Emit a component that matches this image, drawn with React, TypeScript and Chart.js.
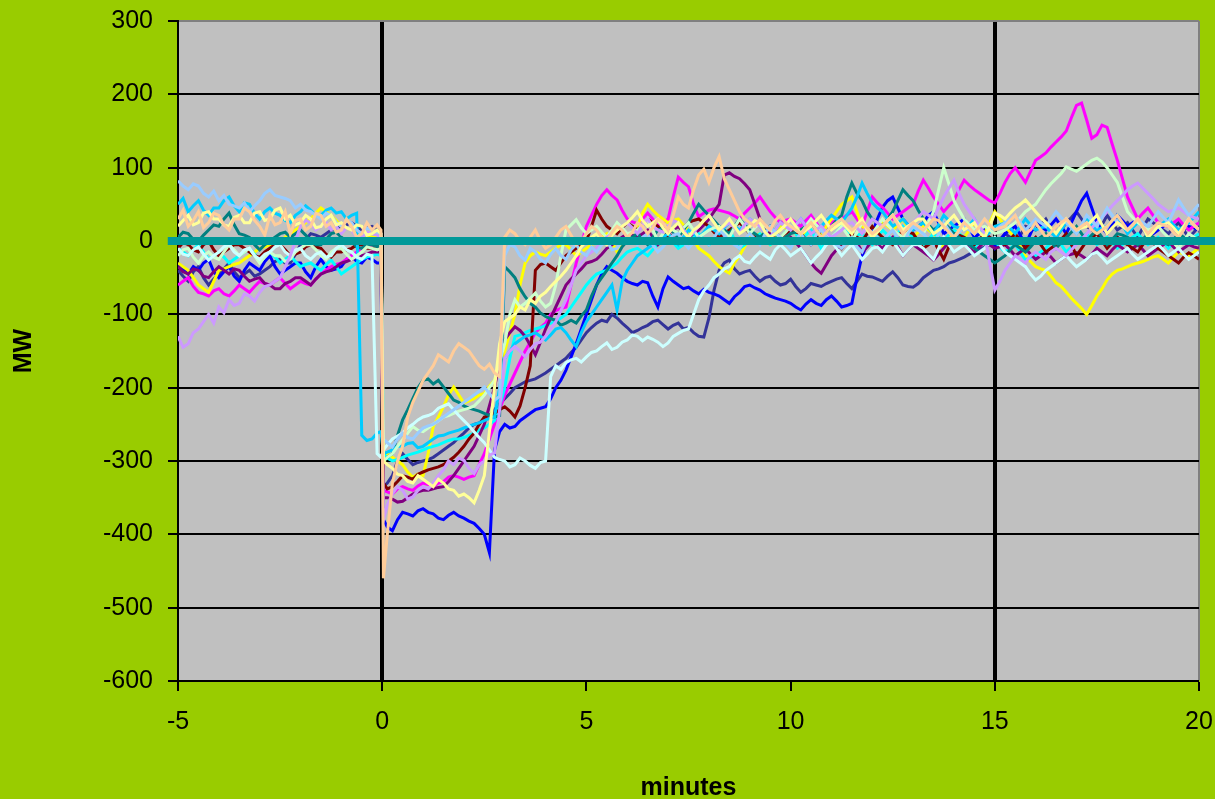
import React, { useEffect, useRef } from "react";
import { Chart, registerables } from "chart.js";

Chart.register(...registerables);

// Sample times in minutes relative to the event (t = 0), eight samples per minute.
const minutes = [
  -5, -4.875, -4.75, -4.625, -4.5, -4.375, -4.25, -4.125,
  -4, -3.875, -3.75, -3.625, -3.5, -3.375, -3.25, -3.125,
  -3, -2.875, -2.75, -2.625, -2.5, -2.375, -2.25, -2.125,
  -2, -1.875, -1.75, -1.625, -1.5, -1.375, -1.25, -1.125,
  -1, -0.875, -0.75, -0.625, -0.5, -0.375, -0.25, -0.125,
  -0.03, 0.03,
  0.125, 0.25, 0.375, 0.5, 0.625, 0.75, 0.875, 1,
  1.125, 1.25, 1.375, 1.5, 1.625, 1.75, 1.875, 2,
  2.125, 2.25, 2.375, 2.5, 2.625, 2.75, 2.875, 3,
  3.125, 3.25, 3.375, 3.5, 3.625, 3.75, 3.875, 4,
  4.125, 4.25, 4.375, 4.5, 4.625, 4.75, 4.875, 5,
  5.125, 5.25, 5.375, 5.5, 5.625, 5.75, 5.875, 6,
  6.125, 6.25, 6.375, 6.5, 6.625, 6.75, 6.875, 7,
  7.125, 7.25, 7.375, 7.5, 7.625, 7.75, 7.875, 8,
  8.125, 8.25, 8.375, 8.5, 8.625, 8.75, 8.875, 9,
  9.125, 9.25, 9.375, 9.5, 9.625, 9.75, 9.875, 10,
  10.125, 10.25, 10.375, 10.5, 10.625, 10.75, 10.875, 11,
  11.125, 11.25, 11.375, 11.5, 11.625, 11.75, 11.875, 12,
  12.125, 12.25, 12.375, 12.5, 12.625, 12.75, 12.875, 13,
  13.125, 13.25, 13.375, 13.5, 13.625, 13.75, 13.875, 14,
  14.125, 14.25, 14.375, 14.5, 14.625, 14.75, 14.875, 15,
  15.125, 15.25, 15.375, 15.5, 15.625, 15.75, 15.875, 16,
  16.125, 16.25, 16.375, 16.5, 16.625, 16.75, 16.875, 17,
  17.125, 17.25, 17.375, 17.5, 17.625, 17.75, 17.875, 18,
  18.125, 18.25, 18.375, 18.5, 18.625, 18.75, 18.875, 19,
  19.125, 19.25, 19.375, 19.5, 19.625, 19.75, 19.875, 20,
];

// Reference line at 0 MW, running slightly past both ends of the axis.
const zeroLineMinutes = [-5.25, 20.4];
const zeroLineMW = [0, 0];

const xMin = -5;
const xMax = 20;
const xStep = 5;
const yMin = -600;
const yMax = 300;
const yStep = 100;

// Per-event MW deviation traces (one row per minute).
const mwTan = [
  30, 42, 20, 28, 40, 18, 25, 38,
  35, 22, 15, 30, 30, 45, 40, 28,
  20, 8, 35, 22, 25, 40, 10, 28,
  30, 15, 20, 38, 35, 20, 25, 12,
  15, 30, 20, 5, 10, 25, 15, 22,
  15, -460,
  -400, -330, -300, -280, -240, -220, -205, -190,
  -180, -170, -155, -160, -165, -150, -140, -145,
  -150, -160, -170, -175, -168, -180, -185, 5,
  15, 10, 0, -5, 5, 15, 0, -10,
  -5, 5, 15, 20, 8, -5, 0, 10,
  20, 15, 5, 0, 12, 20, 15, 5,
  12, 25, 20, 10, 18, 30, 25, 15,
  35, 60, 50, 45, 70, 90, 98, 80,
  100, 115, 85, 70, 55, 40, 30, 25,
  20, 30, 22, 15, 28, 35, 25, 20,
  15, 10, 18, 25, 15, 5, 12, 20,
  25, 30, 22, 15, 20, 25, 18, 10,
  15, 20, 28, 35, 22, 10, 18, 25,
  20, 15, 22, 30, 28, 20, 12, 5,
  15, 25, 18, 10, 20, 30, 22, 15,
  18, 20, 28, 35, 20, 10, 15, 25,
  15, 5, 12, 20, 25, 30, 22, 15,
  20, 25, 15, 10, 15, 20, 28, 35,
  25, 15, 22, 30, 20, 10, 18, 25,
  22, 20, 12, 5, 15, 30, 22, 15,
];
const mwLightYellow = [
  20, 28, 35, 22, 25, 38, 40, 30,
  30, 22, 20, 32, 35, 25, 25, 38,
  40, 28, 30, 42, 45, 30, 35, 22,
  25, 35, 30, 18, 20, 30, 35, 22,
  25, 18, 15, 22, 20, 8, 10, 15,
  10, -300,
  -305, -310, -318, -320, -328, -330, -320, -325,
  -330, -335, -325, -330, -338, -340, -348, -345,
  -350, -357, -340, -320, -260, -200, -140, -110,
  -105, -100, -90, -94, -80, -85, -75, -70,
  -62, -55, -48, -40, -30, -20, -8, 0,
  5, 10, 2, -5, 8, 15, 20, 25,
  32, 40, 28, 20, 25, 30, 18, 10,
  18, 25, 12, 5, 15, 20, 28, 35,
  25, 15, 22, 30, 20, 10, 15, 20,
  28, 25, 12, 5, 10, 15, 22, 30,
  20, 10, 15, 20, 28, 35, 25, 15,
  20, 25, 18, 10, 22, 30, 15, 5,
  12, 20, 28, 35, 25, 15, 20, 25,
  30, 30, 20, 10, 15, 20, 28, 35,
  25, 15, 20, 25, 12, 5, 20, 38,
  35, 30, 38, 45, 50, 56, 48, 40,
  32, 25, 18, 10, 20, 30, 22, 15,
  18, 20, 28, 35, 22, 10, 18, 25,
  20, 15, 22, 30, 18, 5, 12, 20,
  22, 25, 18, 10, 20, 30, 22, 15,
];
const mwPaleBlue = [
  82, 75, 70, 78, 75, 65, 60, 68,
  55, 62, 50, 48, 45, 52, 40, 48,
  55, 65, 70, 62, 60, 58, 55, 45,
  50, 42, 40, 35, 30, 38, 35, 25,
  20, 28, 25, 15, 10, 18, 15, 12,
  10, -270,
  -275, -281, -270, -262, -268, -270, -262, -255,
  -252, -250, -245, -240, -235, -230, -225, -220,
  -215, -210, -205, -199, -208, -217, -212, -20,
  -5, -8, -20, -26, -10, -15, -25, -30,
  -18, -10, -20, -25, -12, -5, -15, -20,
  -8, -15, -5, 0, -12, -10, 0, 5,
  2, -5, 5, 10, -5, -15, -8, 0,
  8, 10, -2, -10, -2, 5, 0, -5,
  5, 15, 8, 0, -5, -10, 2, 10,
  3, -5, 10, 20, 12, 5, -3, -10,
  2, 10, 0, -5, 8, 15, 5, 0,
  -5, -10, -2, 5, -8, -15, 0, 10,
  5, 0, 8, 15, 5, -5, 10, 20,
  15, 10, 2, -5, 10, 25, 15, 5,
  12, 20, 15, 10, 22, 30, 20, 15,
  20, 25, 30, 35, 25, 15, 22, 30,
  25, 20, 30, 40, 32, 25, 18, 10,
  22, 35, 28, 20, 32, 45, 35, 25,
  20, 15, 22, 30, 25, 20, 30, 40,
  32, 25, 40, 56, 45, 35, 42, 50,
];
const mwLavender = [
  -130, -145, -140, -125, -120, -110, -100, -112,
  -90, -98, -80, -88, -85, -72, -75, -82,
  -70, -62, -60, -55, -50, -35, -20, 0,
  20, 28, 25, 15, 20, 25, 15, 20,
  10, 18, 15, 5, 5, 12, 10, 8,
  5, -380,
  -360, -345, -335, -340, -352, -349, -340, -335,
  -338, -330, -320, -312, -300, -305, -296, -299,
  -310, -317, -305, -300, -292, -289, -230, -160,
  -150, -144, -150, -158, -148, -140, -138, -130,
  -120, -110, -95, -80, -60, -40, -30, -20,
  -15, -10, 0, 5, 10, 15, 20, 25,
  18, 10, 22, 30, 20, 15, 12, 20,
  28, 25, 15, 5, 12, 20, 28, 35,
  25, 15, 20, 25, 18, 10, 22, 30,
  25, 20, 12, 5, 15, 25, 20, 15,
  22, 30, 20, 10, 15, 20, 12, 5,
  10, 15, 22, 25, 18, 10, 20, 30,
  25, 20, 28, 35, 25, 15, 20, 25,
  32, 40, 35, 30, 45, 60, 72, 83,
  65, 50, 40, 30, 20, 10, -30, -67,
  -55, -40, -30, -20, -25, -30, -20, -15,
  -20, -25, -15, -10, -15, -20, -12, -5,
  2, 10, 18, 25, 32, 40, 48, 55,
  62, 70, 75, 79, 72, 65, 58, 50,
  45, 40, 42, 45, 40, 35, 32, 30,
];
const mwLightCyan = [
  -10, -18, -20, -12, -8, -18, -26, -20,
  -15, -8, -5, -15, -20, -12, -10, -20,
  -25, -18, -15, -8, -5, -15, -20, -12,
  -10, -20, -25, -18, -15, -22, -20, -10,
  -5, -12, -15, -22, -25, -18, -20, -290,
  -295, -285,
  -278, -270, -266, -262, -255, -250, -244, -240,
  -238, -235, -228, -225, -222, -230, -238, -245,
  -252, -260, -268, -275, -285, -295, -298, -300,
  -308, -305, -296, -300, -306, -310, -302, -300,
  -185, -170, -175, -166, -162, -160, -165, -158,
  -152, -150, -144, -139, -148, -145, -138, -135,
  -128, -130, -136, -131, -134, -138, -144, -139,
  -130, -126, -122, -120, -100, -80, -68, -60,
  -50, -45, -38, -35, -25, -20, -28, -30,
  -22, -15, -20, -25, -12, -5, -12, -20,
  -15, -10, -20, -30, -22, -15, -5, 0,
  -10, -20, -12, -5, -15, -25, -18, -10,
  -8, -15, -5, 0, -10, -20, -12, -5,
  -5, -10, -18, -25, -10, 5, -5, -15,
  -10, -5, -12, -20, -15, -10, -2, 5,
  -5, -15, -20, -25, -30, -35, -45, -53,
  -48, -40, -35, -30, -25, -20, -28, -35,
  -30, -25, -18, -15, -22, -30, -25, -20,
  -15, -10, -18, -25, -20, -15, -10, -5,
  -12, -20, -15, -10, -18, -25, -20, -15,
];
const mwLightGreen = [
  -20, -12, -10, -22, -30, -20, -15, -22,
  -25, -15, -5, -12, -20, -15, -10, -20,
  -30, -22, -15, -20, -20, -28, -25, -15,
  -10, -5, -5, -12, -20, -25, -15, -10,
  -10, -18, -25, -20, -15, -8, -10, -12,
  -10, -300,
  -295, -290, -280, -271, -262, -253, -258, -260,
  -255, -250, -245, -240, -238, -235, -232, -230,
  -228, -225, -218, -210, -200, -190, -165, -140,
  -100, -80, -90, -85, -78, -71, -82, -90,
  -85, -60, -20, 15, 22, 29, 18, 10,
  15, 20, 12, 5, 15, 25, 18, 10,
  12, 15, 22, 30, 15, 0, 10, 20,
  15, 10, 18, 25, 15, 5, 10, 15,
  18, 20, 12, 5, 18, 30, 20, 10,
  18, 25, 20, 15, 10, 5, 12, 20,
  15, 10, 20, 30, 22, 15, 10, 5,
  12, 20, 10, 0, 12, 25, 18, 10,
  20, 30, 22, 15, 10, 5, 12, 20,
  15, 10, 25, 40, 70, 100, 78, 55,
  42, 30, 22, 15, 18, 20, 15, 10,
  12, 15, 20, 25, 32, 40, 45, 50,
  60, 70, 78, 85, 92, 101, 98, 95,
  100, 105, 110, 113, 108, 100, 90, 80,
  60, 40, 32, 25, 20, 15, 18, 20,
  12, 5, -2, -10, 0, 10, 5, 0,
];
const mwSkyBlue = [
  50, 58, 40, 48, 55, 42, 35, 45,
  45, 55, 60, 48, 40, 52, 50, 38,
  30, 40, 45, 38, 35, 28, 25, 35,
  40, 48, 42, 35, 35, 42, 45, 38,
  40, 30, 35, 38, -265, -272, -270, -262,
  -260, -290,
  -288, -285, -280, -280, -276, -275, -282, -280,
  -275, -270, -266, -265, -262, -260, -258, -255,
  -252, -250, -248, -245, -242, -240, -200, -160,
  -150, -140, -135, -130, -128, -125, -130, -135,
  -128, -120, -118, -125, -135, -144, -125, -110,
  -100, -90, -80, -70, -60, -94, -55, -40,
  -30, -20, -15, -10, -5, 0, 5, 10,
  2, -5, 5, 15, 10, 5, 12, 20,
  15, 10, 18, 25, 20, 15, 22, 30,
  25, 20, 12, 5, 15, 25, 20, 15,
  22, 30, 20, 10, 15, 20, 28, 35,
  30, 25, 35, 45, 60, 79, 65, 52,
  45, 40, 30, 20, 25, 30, 22, 15,
  20, 25, 18, 10, 22, 35, 28, 20,
  18, 15, 22, 30, 18, 5, 12, 20,
  22, 25, 18, 10, 20, 30, 22, 15,
  18, 20, 12, 5, 15, 25, 18, 10,
  20, 30, 22, 15, 18, 20, 28, 35,
  22, 10, 18, 25, 20, 15, 18, 20,
  25, 30, 22, 15, 20, 25, 32, 40,
];
const mwTeal = [
  5, 12, 10, 2, 0, 8, 15, 22,
  20, 30, 38, 22, 10, 8, 5, -5,
  -12, -5, 0, 5, 10, 12, 5, 10,
  15, 8, 0, -5, -5, 2, 10, 12,
  5, 0, 0, -8, -10, -5, -5, -8,
  -5, -300,
  -295, -290, -265, -244, -230, -215, -200, -190,
  -188, -195, -190, -199, -208, -217, -220, -225,
  -228, -230, -232, -235, -238, -240, -238, -35,
  -42, -50, -65, -76, -85, -90, -98, -103,
  -106, -108, -115, -112, -108, -112, -102, -94,
  -75, -60, -50, -40, -30, -20, -8, 0,
  5, 10, 2, -5, 5, 15, 18, 20,
  12, 5, 15, 25, 38, 50, 42, 35,
  28, 20, 15, 10, 20, 30, 22, 15,
  10, 5, 12, 20, 10, 0, 5, 10,
  12, 15, 20, 25, 15, 5, 12, 20,
  28, 35, 60, 79, 65, 55, 40, 30,
  25, 20, 30, 40, 55, 70, 62, 55,
  42, 30, 22, 15, 20, 25, 18, 10,
  5, 0, -5, -10, -15, -20, -25, -30,
  -25, -20, -12, -5, -10, -15, -8, 0,
  5, 10, 0, -10, -2, 5, 12, 20,
  10, 0, 8, 15, 5, -5, 2, 10,
  8, 5, 0, -5, 2, 10, 5, 0,
  -2, -5, 2, 10, 5, 0, 2, 5,
];
const mwMaroon = [
  -10, -2, -5, -12, -15, -5, 0, -12,
  -20, -15, -10, -5, -5, -10, -15, -20,
  -22, -15, -10, -5, -5, -12, -20, -18,
  -15, -8, -5, -8, -10, -18, -22, -15,
  -15, -12, -10, -5, -5, -10, -10, -8,
  -10, -330,
  -338, -335, -328, -320, -322, -325, -318, -315,
  -312, -310, -308, -305, -300, -295, -288, -280,
  -270, -262, -250, -240, -238, -235, -230, -226,
  -232, -240, -225, -200, -170, -40, -32, -30,
  -35, -40, -30, -20, -15, -10, -5, 0,
  20, 42, 30, 20, 15, 10, 18, 25,
  20, 15, 22, 30, 25, 20, 12, 5,
  8, 10, 18, 25, 28, 30, 25, 20,
  12, 5, 10, 15, 20, 25, 18, 10,
  5, 0, 10, 20, 12, 5, 10, 15,
  12, 10, 2, -5, 5, 15, 10, 5,
  -2, -10, 0, 10, 5, 0, 10, 20,
  12, 5, 0, -5, 5, 15, 12, 10,
  0, -10, -5, 0, -12, -25, -8, 10,
  8, 5, 0, -5, 2, 10, 5, 0,
  -2, -5, 2, 10, 0, -10, -2, 5,
  -5, -15, -10, -5, 2, 10, -5, -20,
  -10, 0, 5, 10, 0, -10, -2, 5,
  0, -5, -10, -15, -5, 5, -2, -10,
  -15, -20, -25, -30, -22, -16, -20, -25,
];
const mwPurple = [
  -35, -42, -45, -38, -40, -48, -50, -42,
  -35, -40, -45, -38, -40, -48, -55, -52,
  -50, -58, -60, -65, -65, -58, -55, -50,
  -50, -55, -60, -52, -45, -42, -40, -35,
  -30, -28, -25, -22, -20, -18, -15, -15,
  -15, -350,
  -350, -352, -356, -355, -350, -345, -342, -340,
  -340, -338, -336, -335, -328, -320, -310, -300,
  -290, -280, -265, -250, -225, -200, -165, -135,
  -125, -117, -122, -130, -142, -155, -138, -120,
  -105, -90, -75, -60, -52, -45, -38, -30,
  -28, -25, -18, -10, -5, 0, 5, 10,
  8, 5, 10, 15, 5, -5, 2, 10,
  15, 20, 12, 5, 10, 15, 22, 30,
  40, 50, 90, 93, 88, 85, 78, 70,
  50, 30, 20, 10, 2, -5, 0, 5,
  -2, -10, -20, -30, -38, -44, -32, -20,
  -12, -5, 2, 10, -2, -15, -8, 0,
  -5, -10, -2, 5, -8, -20, -12, -5,
  -10, -15, -20, -26, -18, -10, -2, 5,
  0, -5, -10, -15, -8, 0, -5, -10,
  -8, -5, -12, -20, -15, -10, -18, -25,
  -20, -15, -22, -30, -25, -20, -18, -16,
  -20, -25, -18, -10, -15, -20, -12, -5,
  -10, -15, -10, -5, -12, -20, -15, -10,
  -5, 0, -8, -15, -10, -5, -8, -10,
];
const mwCyan = [
  -10, -15, -20, -12, -5, -15, -25, -20,
  -15, -22, -30, -25, -20, -15, -10, -18,
  -25, -20, -15, -22, -30, -25, -20, -28,
  -35, -32, -30, -35, -40, -32, -26, -35,
  -45, -40, -35, -30, -25, -22, -20, -18,
  -20, -290,
  -296, -300, -298, -295, -292, -290, -288, -285,
  -282, -280, -278, -275, -272, -270, -270, -268,
  -265, -262, -258, -255, -250, -245, -225, -200,
  -160, -130, -128, -125, -122, -120, -118, -115,
  -112, -110, -105, -100, -90, -80, -70, -60,
  -52, -45, -42, -40, -35, -30, -22, -15,
  -12, -10, -15, -20, -12, -5, 0, 5,
  -2, -10, -5, 0, 5, 10, 2, -5,
  0, 5, 10, 15, 2, -10, -5, 0,
  5, 10, 2, -5, 0, 5, 12, 20,
  10, 0, 8, 15, 2, -10, -2, 5,
  12, 20, 12, 5, 8, 10, 2, -5,
  5, 15, 8, 0, 10, 20, 12, 5,
  0, -5, 2, 10, 5, 0, 8, 15,
  10, 5, -2, -10, 0, 10, 5, 0,
  -8, -15, -10, -5, -15, -26, -22, -20,
  -15, -10, -2, 5, -5, -15, -8, 0,
  5, 10, 2, -5, 0, 5, -2, -10,
  -5, 0, 5, 10, 2, -5, 0, 5,
  -2, -10, -2, 5, 2, 0, 5, 10,
];
const mwYellow = [
  -30, -35, -40, -50, -60, -65, -70, -55,
  -40, -38, -35, -32, -30, -25, -20, -15,
  -10, -8, -5, -2, 0, 5, 10, 15,
  20, 25, 30, 38, 45, 40, 35, 28,
  20, 18, 15, 12, 10, 8, 5, 5,
  5, -300,
  -290, -295, -300, -305, -315, -322, -318, -320,
  -290, -253, -240, -226, -210, -199, -210, -221,
  -218, -215, -210, -208, -198, -190, -170, -150,
  -125, -100, -60, -30, -20, -15, -18, -20,
  -15, -10, -5, -5, -12, -20, -15, -10,
  -5, 0, 5, 10, -2, -15, -5, 5,
  12, 20, 38, 50, 42, 35, 30, 25,
  28, 30, 22, 15, 2, -10, -15, -20,
  -28, -35, -40, -44, -30, -20, -8, 5,
  8, 10, 2, -5, 8, 20, 18, 15,
  10, 5, 15, 25, 18, 10, 20, 30,
  40, 50, 55, 60, 40, 20, 15, 10,
  18, 25, 20, 15, 22, 30, 18, 5,
  12, 20, 15, 10, 0, -10, 2, 15,
  10, 5, 15, 25, 18, 10, 25, 40,
  30, 20, 12, 5, -8, -20, -28, -35,
  -38, -40, -48, -57, -62, -70, -78, -85,
  -92, -100, -88, -75, -65, -53, -45, -40,
  -38, -35, -32, -30, -28, -25, -22, -20,
  -25, -30, -22, -15, -18, -20, -15, -10,
];
const mwMagenta = [
  -60, -55, -50, -62, -70, -72, -75, -68,
  -65, -72, -75, -68, -60, -65, -70, -62,
  -55, -58, -60, -55, -50, -58, -65, -60,
  -55, -58, -60, -52, -45, -40, -35, -32,
  -30, -25, -20, -15, -10, -8, -5, -5,
  -5, -340,
  -342, -345, -338, -335, -338, -340, -334, -330,
  -332, -335, -330, -328, -322, -320, -322, -325,
  -322, -320, -305, -290, -270, -250, -230, -210,
  -195, -180, -165, -150, -138, -125, -118, -112,
  -100, -95, -92, -90, -60, -30, -5, 20,
  35, 50, 62, 70, 62, 56, 42, 30,
  26, 24, 30, 38, 30, 20, 25, 30,
  60, 87, 80, 74, 50, 33, 38, 42,
  44, 42, 40, 38, 34, 30, 38, 45,
  52, 60, 50, 40, 32, 25, 28, 30,
  25, 20, 28, 35, 25, 15, 20, 25,
  28, 30, 35, 40, 30, 20, 40, 60,
  52, 46, 38, 30, 35, 40, 45, 50,
  68, 83, 72, 60, 50, 40, 48, 55,
  70, 83, 76, 70, 65, 60, 55, 52,
  65, 80, 92, 100, 90, 80, 95, 110,
  115, 120, 128, 135, 142, 150, 168, 185,
  188, 165, 140, 145, 158, 155, 132, 110,
  85, 60, 45, 30, 38, 45, 35, 25,
  22, 20, 25, 30, 22, 15, 20, 25,
];
const mwBlue = [
  -30, -38, -45, -35, -40, -30, -25, -42,
  -50, -42, -35, -48, -55, -40, -30, -35,
  -40, -28, -20, -35, -45, -40, -35, -30,
  -30, -42, -50, -35, -25, -35, -40, -38,
  -35, -25, -20, -28, -30, -22, -25, -30,
  -30, -380,
  -390, -395, -380, -370, -372, -375, -368, -365,
  -370, -372, -378, -380, -374, -370, -375, -378,
  -382, -385, -392, -400, -425, -285, -260, -250,
  -255, -253, -245, -240, -235, -230, -228, -226,
  -215, -200, -190, -176, -158, -140, -120, -100,
  -80, -60, -45, -35, -40, -44, -50, -55,
  -58, -60, -55, -57, -75, -90, -65, -49,
  -55, -60, -65, -63, -68, -72, -66, -70,
  -72, -75, -80, -85, -76, -70, -62, -60,
  -64, -67, -72, -75, -78, -80, -82, -85,
  -90, -94, -86, -80, -85, -88, -80, -75,
  -82, -90, -88, -85, -50, -20, -5, 10,
  30, 46, 55, 60, 45, 30, 22, 15,
  20, 25, 35, 40, 25, 10, 15, 20,
  25, 30, 18, 5, 10, 15, 2, -10,
  0, 10, 15, 20, 8, -5, 10, 25,
  20, 15, 22, 30, 20, 10, 25, 40,
  55, 65, 45, 25, 18, 10, 22, 35,
  28, 20, 25, 30, 18, 5, 10, 15,
  20, 25, 18, 10, 15, 20, 18, 15,
];
const mwNavy = [
  -40, -48, -55, -42, -35, -50, -60, -52,
  -45, -38, -30, -42, -50, -45, -40, -48,
  -45, -40, -35, -28, -25, -30, -30, -18,
  -5, 2, 10, 8, 5, 10, 15, 18,
  20, 22, 25, 20, 15, 18, 20, 15,
  10, -335,
  -330, -320, -300, -290, -298, -305, -302, -300,
  -298, -295, -290, -285, -280, -275, -268, -262,
  -255, -250, -248, -244, -238, -230, -222, -215,
  -208, -200, -196, -192, -190, -188, -184, -180,
  -175, -170, -165, -160, -152, -145, -135, -125,
  -118, -112, -108, -110, -100, -105, -112, -118,
  -125, -122, -118, -115, -110, -108, -114, -120,
  -115, -112, -120, -118, -125, -130, -131, -105,
  -67, -40, -30, -26, -38, -45, -42, -40,
  -48, -55, -50, -48, -55, -60, -58, -52,
  -62, -70, -65, -58, -60, -62, -58, -55,
  -52, -50, -58, -65, -55, -45, -48, -49,
  -52, -55, -48, -42, -50, -60, -62, -63,
  -58, -50, -45, -40, -38, -35, -30, -28,
  -25, -22, -18, -15, -12, -8, -5, -3,
  2, 10, 5, -5, 8, 20, 18, 15,
  22, 30, 18, 5, 15, 25, 32, 40,
  30, 20, 15, 10, 22, 35, 25, 15,
  20, 25, 15, 5, 18, 30, 25, 20,
  15, 10, 18, 25, 15, 5, 12, 20,
];

// Drawing order: the first trace listed ends up on top.
const traces = [
  { label: "Tan", color: "#FFCC99", values: mwTan },
  { label: "Light yellow", color: "#FFFF99", values: mwLightYellow },
  { label: "Pale blue", color: "#99CCFF", values: mwPaleBlue },
  { label: "Lavender", color: "#CC99FF", values: mwLavender },
  { label: "Light cyan", color: "#CCFFFF", values: mwLightCyan },
  { label: "Light green", color: "#CCFFCC", values: mwLightGreen },
  { label: "Sky blue", color: "#00CCFF", values: mwSkyBlue },
  { label: "Teal", color: "#008080", values: mwTeal },
  { label: "Maroon", color: "#800000", values: mwMaroon },
  { label: "Purple", color: "#800080", values: mwPurple },
  { label: "Cyan", color: "#00FFFF", values: mwCyan },
  { label: "Yellow", color: "#FFFF00", values: mwYellow },
  { label: "Magenta", color: "#FF00FF", values: mwMagenta },
  { label: "Blue", color: "#0000FF", values: mwBlue },
  { label: "Navy", color: "#333399", values: mwNavy },
];

const FONT = "'Liberation Sans', Arial, Helvetica, sans-serif";

// Green page background with a grey plot area.
const backdrop = {
  id: "backdrop",
  beforeDraw(chart: any) {
    const { ctx, chartArea: a, width, height } = chart;
    ctx.save();
    ctx.fillStyle = "#99CC00";
    ctx.fillRect(0, 0, width, height);
    ctx.fillStyle = "#C0C0C0";
    ctx.fillRect(a.left, a.top, a.right - a.left, a.bottom - a.top);
    ctx.restore();
  },
};

// Fixed axis box sizes; labels are allowed to overhang the plot edges.
const fixAxisBox = (size: "width" | "height", px: number) => (scale: any) => {
  scale[size] = px;
  scale.paddingLeft = 0;
  scale.paddingRight = 0;
  scale.paddingTop = 0;
  scale.paddingBottom = 0;
};

export default function App() {
  const canvasRef = useRef<HTMLCanvasElement | null>(null);

  useEffect(() => {
    if (!canvasRef.current) return;
    Chart.defaults.font.family = FONT;

    const datasets: any[] = [
      {
        label: "0 MW",
        data: zeroLineMinutes.map((x, i) => ({ x, y: zeroLineMW[i] })),
        borderColor: "#009999",
        borderWidth: 8,
        pointRadius: 0,
        clip: false,
        borderCapStyle: "butt",
      },
      ...traces.map((t) => ({
        label: t.label,
        data: minutes.map((x, i) => ({ x, y: t.values[i] })),
        borderColor: t.color,
        borderWidth: 3,
        pointRadius: 0,
        tension: 0,
        fill: false,
      })),
    ];

    const chart = new Chart(canvasRef.current, {
      type: "line",
      data: { datasets },
      plugins: [backdrop],
      options: {
        responsive: false,
        animation: false,
        events: [],
        layout: { padding: { left: 0, right: 16, top: 21, bottom: 0 } },
        plugins: { legend: { display: false }, tooltip: { enabled: false } },
        scales: {
          x: {
            type: "linear",
            min: xMin,
            max: xMax,
            afterFit: fixAxisBox("height", 118),
            ticks: {
              stepSize: xStep,
              color: "#000",
              font: { size: 25 },
              padding: 16,
              maxRotation: 0,
            },
            grid: {
              color: (c: any) => {
                const v = c.tick && c.tick.value;
                if (v === 0 || v === 15) return "#000";
                if (v === 20) return "#808080";
                return "rgba(0,0,0,0)";
              },
              lineWidth: (c: any) => {
                const v = c.tick && c.tick.value;
                if (v === 0 || v === 15) return 4;
                if (v === 20) return 2;
                return 0;
              },
              tickColor: "#000",
              tickWidth: 2,
              tickLength: 10,
            },
            border: { color: "#000", width: 2 },
            title: {
              display: true,
              text: "minutes",
              color: "#000",
              font: { size: 25, weight: "bold", lineHeight: 0.9 },
              padding: { top: 0, bottom: 0 },
            },
          },
          y: {
            type: "linear",
            min: yMin,
            max: yMax,
            afterFit: fixAxisBox("width", 178),
            ticks: {
              stepSize: yStep,
              color: "#000",
              font: { size: 25 },
              padding: 15,
            },
            grid: {
              color: (c: any) => (c.tick && c.tick.value === yMax ? "#808080" : "#000"),
              lineWidth: 2,
              tickColor: "#000",
              tickWidth: 2,
              tickLength: 10,
            },
            border: { color: "#000", width: 2 },
            title: {
              display: true,
              text: "MW",
              color: "#000",
              font: { size: 25, weight: "bold", lineHeight: 0.9 },
              padding: { top: 13, bottom: 0 },
            },
          },
        },
      } as any,
    });

    return () => chart.destroy();
  }, []);

  return (
    <div style={{ position: "absolute", left: 0, top: 0, width: 1215, height: 799 }}>
      <canvas ref={canvasRef} width={1215} height={799} style={{ display: "block" }} />
    </div>
  );
}
